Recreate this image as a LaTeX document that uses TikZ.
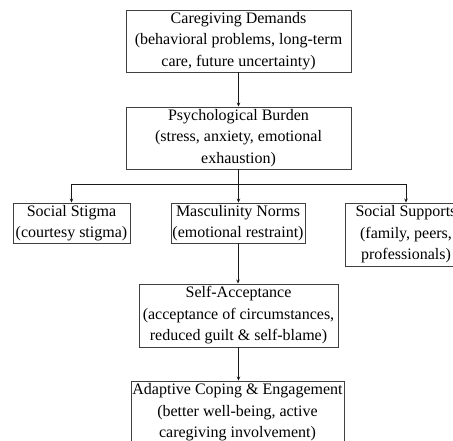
\documentclass[tikz,border=0pt]{standalone}
\usepackage{fontspec}
\setmainfont{Liberation Serif}
\usetikzlibrary{arrows.meta}
\begin{document}
\begin{tikzpicture}[x=1pt,y=-1pt,
  box/.style={draw=black!75,line width=0.9pt,inner sep=0pt,align=center,
    font=\fontsize{16}{21.5}\selectfont,text=black},
  conn/.style={draw=black!90,line width=0.9pt},
  arr/.style={conn,-{Stealth[length=4pt,width=3.5pt]}}]
\useasboundingbox (0,0) rectangle (453,441);
\clip (0,0) rectangle (453,441);
\fill[white] (0,0) rectangle (453,441);
\node[box,minimum width=225pt,minimum height=62pt] (cd) at (238.5,41)
  {Caregiving Demands\\(behavioral problems, long-term\\care, future uncertainty)};
\node[box,minimum width=225pt,minimum height=62pt] (pb) at (238.5,138)
  {Psychological Burden\\(stress, anxiety, emotional\\exhaustion)};
\node[box,minimum width=117pt,minimum height=40pt] (ss) at (71.5,223)
  {Social Stigma\\(courtesy stigma)};
\node[box,minimum width=134pt,minimum height=40pt] (mn) at (238,223)
  {Masculinity Norms\\(emotional restraint)};
\node[box,minimum width=122pt,minimum height=63pt] (su) at (406,234.5)
  {Social Supports\\(family, peers,\\professionals)};
\node[box,minimum width=199pt,minimum height=63pt] (sa) at (238.5,315.5)
  {Self-Acceptance\\(acceptance of circumstances,\\reduced guilt \& self-blame)};
\node[box,minimum width=213pt,minimum height=63pt] (ac) at (237.5,412.5)
  {Adaptive Coping \& Engagement\\(better well-being, active\\caregiving involvement)};
\coordinate (bj) at (238.5,184);
\draw[arr] (cd.south) -- (pb.north);
\draw[conn] (pb.south) -- (bj);
\draw[arr] (bj) -| (ss.north);
\draw[arr] (bj) -| (su.north);
\draw[arr] (bj) -- (bj |- mn.north);
\draw[arr] (mn.south) -- (mn.south |- sa.north);
\draw[arr] (sa.south) -- (sa.south |- ac.north);
\end{tikzpicture}
\end{document}
